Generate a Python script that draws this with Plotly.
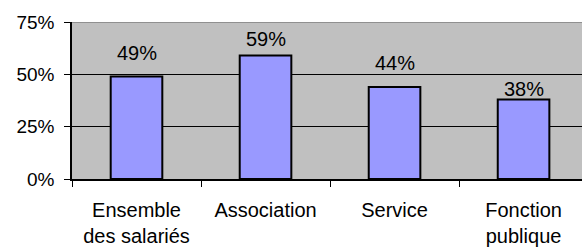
import plotly.graph_objects as go

categories = ["Ensemble<br>des salariés", "Association", "Service", "Fonction<br>publique"]
values = [49, 59, 44, 38]
value_labels = ["49%", "59%", "44%", "38%"]
label_lift = [23, 16, 24, 10]  # pixel lift of each label above its bar top
y_ticks = [0, 25, 50, 75]
y_tick_text = ["0%", "25%", "50%", "75%"]

FONT = "Liberation Sans, Arial, sans-serif"

fig = go.Figure()
fig.add_trace(go.Bar(
    x=categories, y=values, width=0.4,
    marker=dict(color="#9999FF", line=dict(color="black", width=2)),
    hoverinfo="skip",
))

for c, v, t, s in zip(categories, values, value_labels, label_lift):
    fig.add_annotation(x=c, y=v, text=t, showarrow=False, yanchor="middle",
                       yshift=s, font=dict(family=FONT, size=20, color="black"))

fig.add_shape(type="line", xref="paper", yref="y", x0=0, x1=1, y0=75, y1=75,
              line=dict(color="#808080", width=1.5), layer="above")

fig.update_layout(
    width=582, height=248,
    margin=dict(l=72, r=0, t=22, b=69),
    paper_bgcolor="white", plot_bgcolor="#C0C0C0",
    showlegend=False,
    font=dict(family=FONT, color="black"),
    xaxis=dict(
        range=[-0.5, 3.453], showgrid=False, showline=True, linecolor="black", linewidth=1.5,
        ticks="outside", tickson="boundaries", ticklen=6, tickcolor="black", tickwidth=1,
        tickfont=dict(family=FONT, size=20, color="black"), ticklabelstandoff=12,
        fixedrange=True,
    ),
    yaxis=dict(
        range=[0, 75], tickvals=y_ticks, ticktext=y_tick_text,
        showgrid=True, gridcolor="black", gridwidth=1, zeroline=False,
        showline=True, linecolor="black", linewidth=1.5,
        ticks="outside", ticklen=6, tickcolor="black", tickwidth=1,
        tickfont=dict(family=FONT, size=19, color="black"), ticklabelstandoff=6,
        fixedrange=True,
    ),
)

fig.write_html("out.html", config={"displayModeBar": False},
               post_script="document.body.style.margin='0';")
